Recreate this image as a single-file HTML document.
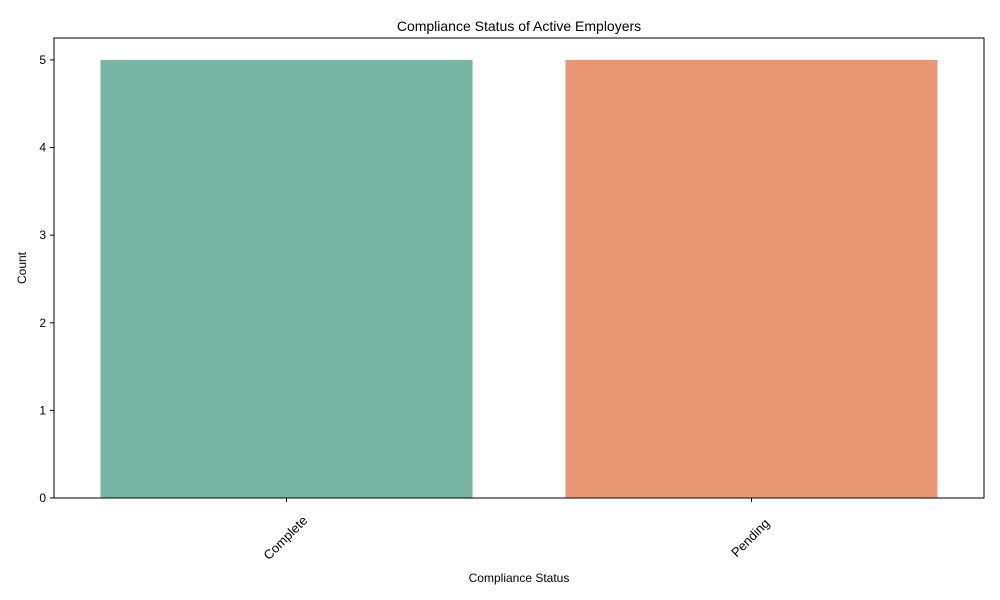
<!DOCTYPE html>
<html><head><meta charset="utf-8"><style>
html,body{margin:0;padding:0;background:#fff;}
svg{display:block;font-family:"Liberation Sans","DejaVu Sans",sans-serif;}
</style></head><body>
<svg id="chart" width="1000" height="600">
<text x="519" y="31" font-size="14" text-anchor="middle" fill="#000">Compliance Status of Active Employers</text>
<g id="bars"></g>
<g id="yticks"></g>
<g id="xticks"></g>
<rect x="54" y="38" width="930" height="460" fill="none" stroke="#000" stroke-width="1"/>
<text x="519" y="582" font-size="12" text-anchor="middle">Compliance Status</text>
<text transform="translate(26,268) rotate(-90)" font-size="12" text-anchor="middle">Count</text>
</svg>
<script>
const categories = ["Complete", "Pending"];
const counts = [5, 5];
const colors = ["#76b5a2", "#e99775"];
const yTickLabels = [0, 1, 2, 3, 4, 5];

const L = 54, R = 984, T = 38, B = 498;
const yMax = Math.max(...counts) * 1.05;
const ys = v => B - (v / yMax) * (B - T);
const band = (R - L) / categories.length;
const xc = i => L + band * (i + 0.5);
const bw = band * 0.8;
const ns = "http://www.w3.org/2000/svg";
const bars = document.getElementById("bars");
const yt = document.getElementById("yticks");
const xt = document.getElementById("xticks");

categories.forEach((c, i) => {
  const r = document.createElementNS(ns, "rect");
  r.setAttribute("x", xc(i) - bw / 2);
  r.setAttribute("y", ys(counts[i]));
  r.setAttribute("width", bw);
  r.setAttribute("height", B - ys(counts[i]));
  r.setAttribute("fill", colors[i % colors.length]);
  
  
  bars.appendChild(r);

  const tk = document.createElementNS(ns, "line");
  tk.setAttribute("x1", xc(i)); tk.setAttribute("x2", xc(i));
  tk.setAttribute("y1", B); tk.setAttribute("y2", B + 4);
  tk.setAttribute("stroke", "#000");
  
  
  xt.appendChild(tk);

  const t = document.createElementNS(ns, "text");
  t.setAttribute("transform", `translate(${xc(i) + 2},${B + 43}) rotate(-45)`);
  t.setAttribute("text-anchor", "middle");
  t.setAttribute("font-size", "13");
  t.textContent = c;
  
  
  xt.appendChild(t);
});

yTickLabels.forEach(v => {
  const tk = document.createElementNS(ns, "line");
  tk.setAttribute("x1", L - 4); tk.setAttribute("x2", L);
  tk.setAttribute("y1", ys(v)); tk.setAttribute("y2", ys(v));
  tk.setAttribute("stroke", "#000");
  
  
  yt.appendChild(tk);
  const t = document.createElementNS(ns, "text");
  t.setAttribute("x", L - 8); t.setAttribute("y", ys(v) + 4);
  t.setAttribute("text-anchor", "end");
  t.setAttribute("font-size", "12");
  t.textContent = v;
  
  
  yt.appendChild(t);
});
</script>
</body></html>
